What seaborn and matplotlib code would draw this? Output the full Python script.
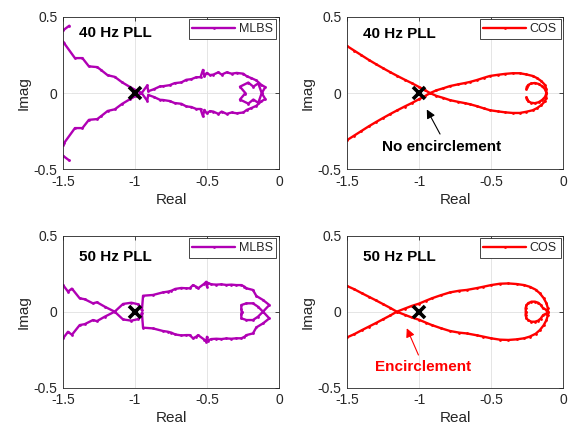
import matplotlib
matplotlib.use("Agg")
import matplotlib.pyplot as plt
import pandas as pd
import seaborn as sns

# ---------------- data (positive-frequency branch of each Nyquist curve;
# the negative-frequency branch is its complex conjugate) ----------------
mlbs40_re = [-1.456, -1.50, -1.53, -1.50, -1.493, -1.417, -1.365, -1.320, -1.262, -1.234,
             -1.190, -1.140, -1.090, -1.035, -0.991, -0.955, -0.915, -0.908, -0.870, -0.826,
             -0.806, -0.759, -0.725, -0.678, -0.644, -0.609, -0.574, -0.545, -0.528, -0.518,
             -0.502, -0.479, -0.456, -0.421, -0.398, -0.363, -0.329, -0.294, -0.248, -0.224,
             -0.192, -0.157, -0.123, -0.095, -0.120, -0.144, -0.178, -0.213, -0.271, -0.236]
mlbs40_im = [0.441, 0.410, 0.370, 0.337, 0.328, 0.229, 0.229, 0.175, 0.170, 0.150,
             0.117, 0.106, 0.071, 0.040, 0.017, 0.002, -0.050, -0.012, -0.025, -0.044,
             -0.045, -0.052, -0.065, -0.070, -0.087, -0.091, -0.104, -0.104, -0.152, -0.110,
             -0.132, -0.118, -0.121, -0.136, -0.121, -0.136, -0.127, -0.132, -0.127, -0.110,
             -0.098, -0.083, -0.054, -0.039, 0.000, 0.064, 0.042, 0.069, 0.042, 0.003]

cos40_re = [-1.500, -1.450, -1.400, -1.350, -1.300, -1.250, -1.200, -1.150, -1.100, -1.050,
            -1.000, -0.960, -0.923, -0.880, -0.830, -0.785, -0.730, -0.680, -0.646, -0.600,
            -0.550, -0.508, -0.450, -0.400, -0.350, -0.300, -0.254, -0.210, -0.180, -0.150,
            -0.127, -0.117, -0.115, -0.125, -0.145, -0.170, -0.196, -0.222, -0.242, -0.252,
            -0.254]
cos40_im = [0.308, 0.278, 0.248, 0.218, 0.190, 0.163, 0.137, 0.112, 0.088, 0.065,
            0.040, 0.020, 0.000, -0.018, -0.032, -0.046, -0.057, -0.066, -0.073, -0.085,
            -0.100, -0.112, -0.120, -0.126, -0.130, -0.130, -0.122, -0.112, -0.098, -0.078,
            -0.055, -0.030, 0.000, 0.025, 0.045, 0.060, 0.066, 0.063, 0.053, 0.040,
            0.028]

mlbs50_re = [-1.500, -1.465, -1.438, -1.384, -1.349, -1.292, -1.264, -1.210, -1.141, -1.083,
             -1.025, -0.979, -0.955, -0.952, -0.944, -0.875, -0.806, -0.771, -0.747, -0.720,
             -0.678, -0.644, -0.620, -0.597, -0.574, -0.562, -0.520, -0.505, -0.500, -0.495,
             -0.470, -0.435, -0.400, -0.365, -0.330, -0.296, -0.261, -0.240, -0.226, -0.181,
             -0.157, -0.111, -0.067, -0.111, -0.146, -0.181, -0.226, -0.261, -0.262, -0.258]
mlbs50_im = [0.176, 0.132, 0.152, 0.088, 0.082, 0.055, 0.062, 0.033, 0.000, -0.051,
             -0.059, -0.049, -0.022, -0.008, -0.105, -0.110, -0.127, -0.132, -0.138, -0.150,
             -0.156, -0.154, -0.154, -0.175, -0.164, -0.154, -0.183, -0.197, -0.165, -0.190,
             -0.180, -0.178, -0.180, -0.176, -0.178, -0.175, -0.175, -0.165, -0.154, -0.143,
             -0.103, -0.077, -0.044, 0.000, 0.033, 0.055, 0.055, 0.044, 0.015, 0.000]

cos50_re = [-1.500, -1.450, -1.396, -1.350, -1.300, -1.250, -1.200, -1.154, -1.100, -1.050,
            -1.000, -0.950, -0.911, -0.850, -0.785, -0.720, -0.669, -0.600, -0.554, -0.500,
            -0.438, -0.380, -0.323, -0.270, -0.231, -0.190, -0.161, -0.135, -0.115, -0.106,
            -0.104, -0.115, -0.138, -0.155, -0.173, -0.195, -0.219, -0.240, -0.254, -0.260,
            -0.258]
cos50_im = [0.169, 0.148, 0.121, 0.099, 0.075, 0.050, 0.025, 0.000, -0.020, -0.038,
            -0.053, -0.073, -0.088, -0.108, -0.127, -0.138, -0.143, -0.155, -0.164, -0.175,
            -0.184, -0.186, -0.182, -0.175, -0.164, -0.145, -0.121, -0.090, -0.055, -0.025,
            0.000, 0.012, 0.022, 0.045, 0.059, 0.066, 0.066, 0.057, 0.044, 0.022,
            0.000]

critical_point = (-1.0, 0.0)

panel_titles = ["40 Hz PLL", "40 Hz PLL", "50 Hz PLL", "50 Hz PLL"]
series_names = ["MLBS", "COS", "MLBS", "COS"]
x_ticks = [-1.5, -1.0, -0.5, 0.0]
x_tick_labels = ["-1.5", "-1", "-0.5", "0"]
y_ticks = [-0.5, 0.0, 0.5]
y_tick_labels = ["-0.5", "0", "0.5"]
annot_texts = ["No encirclement", "Encirclement"]

# ---------------- styling ----------------
sns.set_style("white")
plt.rcParams["font.family"] = ["Liberation Sans", "DejaVu Sans"]
plt.rcParams["axes.unicode_minus"] = False

MLBS_COLOR = "#B000B4"
COS_COLOR = "#FF0000"
AX_COLOR = "#262626"

fig = plt.figure(figsize=(5.73, 4.29), dpi=100)
positions = [
    [0.1099, 0.6049, 0.3770, 0.3562],
    [0.6056, 0.6049, 0.3770, 0.3562],
    [0.1099, 0.0963, 0.3770, 0.3543],
    [0.6056, 0.0963, 0.3770, 0.3543],
]
curves = [(mlbs40_re, mlbs40_im), (cos40_re, cos40_im),
          (mlbs50_re, mlbs50_im), (cos50_re, cos50_im)]
colors = [MLBS_COLOR, COS_COLOR, MLBS_COLOR, COS_COLOR]
title_y = [0.39, 0.385, 0.36, 0.36]

axes = []
for i in range(4):
    ax = fig.add_axes(positions[i])
    axes.append(ax)
    re, im = curves[i]
    pos = pd.DataFrame({"Real": re, "Imag": im})
    neg = pd.DataFrame({"Real": re, "Imag": [-v for v in im]})
    kw = dict(x="Real", y="Imag", sort=False, estimator=None, color=colors[i],
              linewidth=1.7, marker=".", markersize=4, markeredgewidth=0,
              markeredgecolor=colors[i], ax=ax)
    sns.lineplot(data=pos, label=series_names[i], **kw)
    sns.lineplot(data=neg, **kw)

    ax.plot([critical_point[0]], [critical_point[1]], marker="x", color="black",
            markersize=8.5, markeredgewidth=2.6, linestyle="none", zorder=5)

    ax.set_xlim(-1.5, 0)
    ax.set_ylim(-0.5, 0.5)
    ax.set_xticks(x_ticks)
    ax.set_xticklabels(x_tick_labels)
    ax.set_yticks(y_ticks)
    ax.set_yticklabels(y_tick_labels)
    ax.grid(True, color="#E1E1E1", linewidth=0.6)
    ax.set_axisbelow(True)
    ax.tick_params(direction="in", length=3, width=0.6, colors=AX_COLOR,
                   labelsize=10, top=True, right=True, pad=4)
    for s in ax.spines.values():
        s.set_visible(True)
        s.set_color(AX_COLOR)
        s.set_linewidth(0.6)
    ax.set_xlabel("Real", fontsize=11, color=AX_COLOR, labelpad=3)
    ax.set_ylabel("Imag", fontsize=11, color=AX_COLOR, labelpad=2)

    ax.text(-1.39, title_y[i], panel_titles[i], fontsize=11, fontweight="bold",
            ha="left", va="center", color="black")

    h, l = ax.get_legend_handles_labels()
    leg = ax.legend(h[:1], l[:1], loc="upper right", fontsize=9, frameon=True,
                    fancybox=False, framealpha=1, edgecolor=AX_COLOR,
                    handlelength=3.4, handletextpad=0.3, borderpad=0.3,
                    borderaxespad=0.2)
    leg.get_frame().set_linewidth(0.6)

# annotations
ax = axes[1]
ax.annotate("", xy=(-0.946, -0.107), xytext=(-0.854, -0.268),
            arrowprops=dict(arrowstyle="-|>", color="black", lw=0.8,
                            mutation_scale=13, shrinkA=0, shrinkB=0))
ax.text(-0.842, -0.352, annot_texts[0], fontsize=11, fontweight="bold",
        ha="center", va="center", color="black")

ax = axes[3]
ax.annotate("", xy=(-1.085, -0.109), xytext=(-1.004, -0.285),
            arrowprops=dict(arrowstyle="-|>", color=COS_COLOR, lw=0.8,
                            mutation_scale=13, shrinkA=0, shrinkB=0))
ax.text(-0.970, -0.362, annot_texts[1], fontsize=11, fontweight="bold",
        ha="center", va="center", color=COS_COLOR)

fig.savefig("out.png", dpi=100)
